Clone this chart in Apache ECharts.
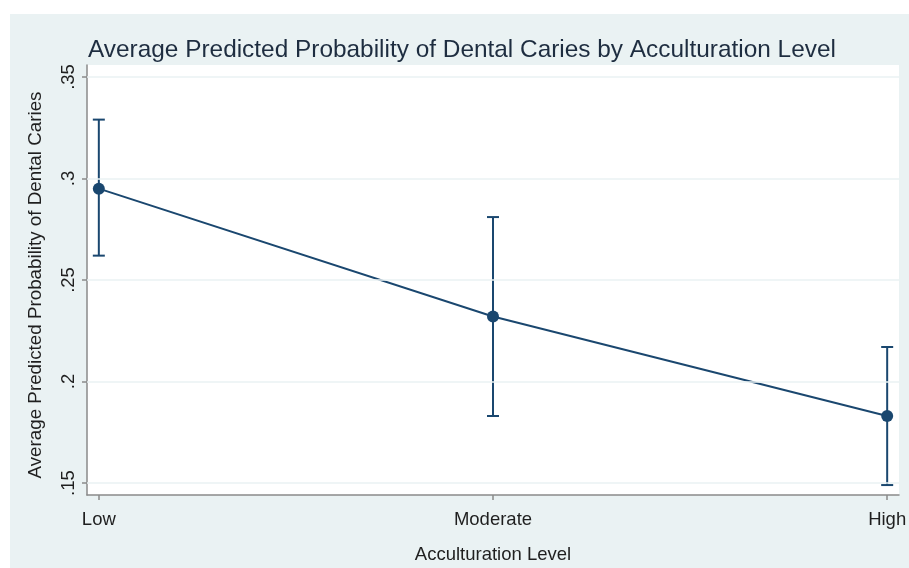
<!DOCTYPE html>
<html>
<head>
<meta charset="utf-8">
<script src="https://cdn.jsdelivr.net/npm/echarts@6/dist/echarts.min.js"></script>
<style>
  html, body { margin: 0; padding: 0; background: #ffffff; }
  #chart { position: absolute; left: 10px; top: 14px; width: 899px; height: 554px; }
</style>
</head>
<body>
<div id="chart"></div>
<script>
// acculturation levels
const categories = ['Low', 'Moderate', 'High']
// average predicted probability and 95% CI
const means = [0.295, 0.232, 0.183]
const lower = [0.262, 0.183, 0.149]
const upper = [0.329, 0.281, 0.217]
// y tick values and their labels
const yTicks = [0.15, 0.2, 0.25, 0.3, 0.35]
const yTickLabels = ['.15', '.2', '.25', '.3', '.35']

const navy = '#1a476f'
const axisGray = '#8a8a8a'
const txt = '#1f1f1f'

const chart = echarts.init(document.getElementById('chart'))

const option = {
  backgroundColor: '#eaf2f3',
  animation: false,
  textStyle: { fontFamily: 'Liberation Sans, Arial, sans-serif' },
  title: {
    text: 'Average Predicted Probability of Dental Caries by Acculturation Level',
    left: 73,
    top: 19,
    textStyle: { color: '#1e2d40', fontSize: 24.4, fontWeight: 'normal' }
  },
  grid: {
    left: 77, right: 10, top: 51, bottom: 73,
    outerBoundsMode: 'none',
    show: true, backgroundColor: '#ffffff', borderWidth: 0
  },
  xAxis: {
    type: 'value',
    min: -0.03,
    max: 2.03,
    name: 'Acculturation Level',
    nameLocation: 'middle',
    nameGap: 50,
    nameTextStyle: { color: txt, fontSize: 18.5 },
    axisLine: { onZero: false, lineStyle: { color: axisGray, width: 1.5 } },
    axisTick: { show: true, customValues: [0, 1, 2], length: 5, lineStyle: { color: axisGray, width: 1.5 } },
    axisLabel: {
      customValues: [0, 1, 2],
      color: txt, fontSize: 18.5, margin: 15,
      formatter: v => categories[Math.round(v)]
    },
    splitLine: { show: false }
  },
  yAxis: {
    type: 'value',
    min: 0.1441,
    max: 0.3559,
    name: 'Average Predicted Probability of Dental Caries',
    nameLocation: 'middle',
    nameRotate: 90,
    nameGap: 42,
    nameTextStyle: { color: txt, fontSize: 18.8, padding: [0, 10, 0, 0] },
    axisLine: { show: true, onZero: false, lineStyle: { color: axisGray, width: 1.5 } },
    axisTick: { show: true, customValues: yTicks, length: 5, lineStyle: { color: axisGray, width: 1.5 } },
    axisLabel: {
      customValues: yTicks,
      rotate: 90,
      color: txt, fontSize: 18.5, margin: 9,
      formatter: v => yTickLabels[yTicks.findIndex(t => Math.abs(t - v) < 1e-6)]
    },
    splitLine: { show: false }
  },
  series: [
    {
      // grid lines
      type: 'line',
      data: [],
      silent: true,
      markLine: {
        symbol: 'none',
        silent: true,
        label: { show: false },
        lineStyle: { color: '#eaf2f3', type: 'solid', width: 1.5 },
        data: yTicks.map(t => ({ yAxis: t }))
      }
    },
    {
      // confidence interval bars
      type: 'custom',
      data: categories.map((c, i) => [i, lower[i], upper[i]]),
      renderItem: function (params, api) {
        const lo = api.coord([api.value(0), api.value(1)])
        const hi = api.coord([api.value(0), api.value(2)])
        const cap = 6
        const style = { stroke: navy, lineWidth: 2 }
        return {
          type: 'group',
          children: [
            { type: 'line', shape: { x1: lo[0], y1: lo[1], x2: hi[0], y2: hi[1] }, style },
            { type: 'line', shape: { x1: lo[0] - cap, y1: lo[1], x2: lo[0] + cap, y2: lo[1] }, style },
            { type: 'line', shape: { x1: hi[0] - cap, y1: hi[1], x2: hi[0] + cap, y2: hi[1] }, style }
          ]
        }
      },
      z: 3
    },
    {
      type: 'line',
      data: means.map((m, i) => [i, m]),
      symbol: 'circle',
      symbolSize: 12,
      lineStyle: { color: navy, width: 2 },
      itemStyle: { color: navy },
      z: 4
    }
  ]
}

chart.setOption(option)
</script>
</body>
</html>
